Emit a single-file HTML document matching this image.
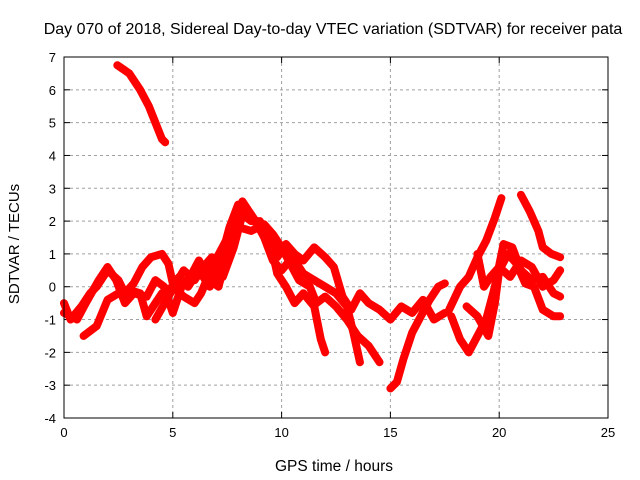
<!DOCTYPE html>
<html><head><meta charset="utf-8"><style>
body{margin:0;background:#fff}
svg{display:block;font-family:"Liberation Sans",sans-serif}
</style></head><body>
<svg id="chart" width="640" height="480">
<text x="333" y="34" text-anchor="middle" font-size="16">Day 070 of 2018, Sidereal Day-to-day VTEC variation (SDTVAR) for receiver pata</text>
<text x="334" y="471" text-anchor="middle" font-size="15.5">GPS time / hours</text>
<text transform="translate(19,244) rotate(-90)" text-anchor="middle" font-size="15">SDTVAR / TECUs</text>
<g id="grid"></g><g id="series"></g>
<rect x="64" y="57" width="544" height="361" fill="none" stroke="#000" stroke-width="1"/>
</svg>
<script>
const xTicks=[0,5,10,15,20,25];
const yTicks=[-4,-3,-2,-1,0,1,2,3,4,5,6,7];
const traceA=[[2.45,6.75],[3.0,6.5],[3.5,6.0],[3.9,5.5],[4.2,5.0],[4.5,4.5],[4.65,4.4]];
const trace1=[[0,-0.5],[0.3,-1.0],[0.8,-0.6],[1.2,-0.2],[1.5,0.0],[2.0,0.5],[2.5,0.2],[2.8,-0.2],[3.2,0.1],[3.6,0.6],[4.0,0.9],[4.5,1.0],[4.8,0.7],[5.0,0.1],[5.3,0.3],[5.7,0.0],[6.2,0.5],[6.7,0.0],[7.2,0.8],[7.6,1.8],[8.0,2.5],[8.6,2.2],[9.0,1.8],[9.4,1.6],[9.8,0.4],[10.2,0.0],[10.6,-0.5],[11.0,-0.2],[11.5,-0.6],[11.8,-1.6],[12.0,-2.0]];
const trace2=[[0,-0.8],[0.6,-1.0],[1.0,-0.5],[1.6,0.2],[2.0,0.6],[2.4,0.2],[2.8,-0.5],[3.2,-0.2],[3.8,-0.3],[4.2,0.2],[4.6,0.0],[5.0,-0.8],[5.4,0.0],[5.8,0.3],[6.2,0.8],[6.7,0.2],[7.1,0.0],[7.5,1.0],[7.8,2.0],[8.2,2.6],[8.8,2.0],[9.2,1.5],[9.6,0.8],[10.0,0.5],[10.5,0.9],[11.0,0.4],[11.5,0.2],[12.0,0.0],[12.5,-0.2],[13.0,-0.6],[13.3,-1.4],[13.6,-2.3]];
const trace3=[[0.9,-1.5],[1.5,-1.2],[2.0,-0.4],[2.5,-0.2],[3.0,-0.1],[3.5,-0.2],[3.8,-0.9],[4.2,-0.5],[4.5,-0.2],[5.0,0.0],[5.5,-0.3],[6.0,-0.5],[6.3,-0.2],[6.8,0.6],[7.2,1.1],[7.6,1.6],[8.1,1.8],[8.6,1.7],[9.2,1.9],[9.6,1.6],[10.0,1.2],[10.4,0.7],[10.8,0.2],[11.3,0.0],[11.6,-0.5],[12.0,-0.3],[12.5,-0.6],[13.0,-1.0],[13.5,-1.5],[14.0,-1.8],[14.5,-2.3]];
const trace4=[[4.2,-1.0],[4.8,-0.3],[5.5,0.5],[6.0,0.2],[6.4,0.6],[6.8,0.9],[7.3,0.3],[7.8,1.2],[8.2,2.2],[8.6,2.0],[9.0,2.0],[9.4,1.5],[9.8,0.9],[10.2,1.3],[10.6,1.0],[11.0,0.8],[11.5,1.2],[12.0,0.9],[12.4,0.6],[12.8,-0.3],[13.2,-0.7],[13.6,-0.2],[14.0,-0.5],[14.5,-0.7],[15.0,-1.0],[15.5,-0.6],[16.0,-0.8],[16.5,-0.4],[17.0,-1.0],[17.5,-0.8]];
const trace5=[[15.0,-3.1],[15.3,-2.9],[15.6,-2.2],[16.0,-1.4],[16.4,-0.9],[16.8,-0.4],[17.2,0.0],[17.5,0.1]];
const traceR1=[[17.7,-0.7],[18.2,0.0],[18.6,0.3],[19.0,0.9],[19.4,1.4],[19.8,2.1],[20.1,2.7]];
const traceR2=[[17.8,-0.9],[18.2,-1.6],[18.6,-2.0],[19.0,-1.5],[19.4,-1.0],[19.8,0.0],[20.2,1.3],[20.6,1.2],[21.0,0.5],[21.5,0.2],[22.0,0.3],[22.5,-0.2],[22.8,-0.3]];
const traceR3=[[18.5,-0.6],[19.0,-0.9],[19.5,-1.5],[19.8,-0.5],[20.0,0.5],[20.4,1.0],[20.8,0.7],[21.2,0.1],[21.6,0.0],[22.0,-0.7],[22.5,-0.9],[22.8,-0.9]];
const traceR4=[[21.0,2.8],[21.4,2.3],[21.8,1.7],[22.0,1.2],[22.4,1.0],[22.8,0.9]];
const traceR5=[[19.0,1.0],[19.3,0.0],[19.6,0.3],[20.0,0.6],[20.5,0.3],[21.0,0.8],[21.5,0.6],[22.0,0.0],[22.5,0.2],[22.8,0.5]];
const traces=[traceA,trace1,trace2,trace3,trace4,trace5,traceR1,traceR2,traceR3,traceR4,traceR5];
const NS="http://www.w3.org/2000/svg";
const X0=64,X1=608,Y0=418,Y1=57;
function xs(h){return X0+(h-0)/(25-0)*(X1-X0);}
function ys(v){return Y0-(v+4)/(7+4)*(Y0-Y1);}
const grid=document.getElementById('grid');
function mk(tag,attrs,parent){const e=document.createElementNS(NS,tag);for(const k in attrs)e.setAttribute(k,attrs[k]);parent.appendChild(e);return e;}
xTicks.forEach(t=>{const x=xs(t);
 if(t>0&&t<25){const g=mk('line',{x1:x,x2:x,y1:Y1,y2:Y0,stroke:'#a0a0a0','stroke-dasharray':'3,3'},grid);
 
 }
 mk('line',{x1:x,x2:x,y1:Y0,y2:Y0-6,stroke:'#000'},grid);
 mk('line',{x1:x,x2:x,y1:Y1,y2:Y1+6,stroke:'#000'},grid);
 const tx=mk('text',{x:x,y:Y0+19,'text-anchor':'middle','font-size':'13'},grid);tx.textContent=t;
 
 
});
yTicks.forEach(t=>{const y=ys(t);
 if(t>-4&&t<7){const g=mk('line',{x1:X0,x2:X1,y1:y,y2:y,stroke:'#a0a0a0','stroke-dasharray':'3,3'},grid);
 
 }
 mk('line',{x1:X0,x2:X0+6,y1:y,y2:y,stroke:'#000'},grid);
 mk('line',{x1:X1,x2:X1-6,y1:y,y2:y,stroke:'#000'},grid);
 const tx=mk('text',{x:X0-8,y:y+5,'text-anchor':'end','font-size':'13'},grid);tx.textContent=t;
 
 
});
const sg=document.getElementById('series');
traces.forEach(tr=>{
 const p=mk('polyline',{points:tr.map(d=>xs(d[0])+','+ys(d[1])).join(' '),fill:'none',stroke:'#ff0000','stroke-width':'8','stroke-linejoin':'round','stroke-linecap':'round'},sg);
 
 
});
</script>
</body></html>
